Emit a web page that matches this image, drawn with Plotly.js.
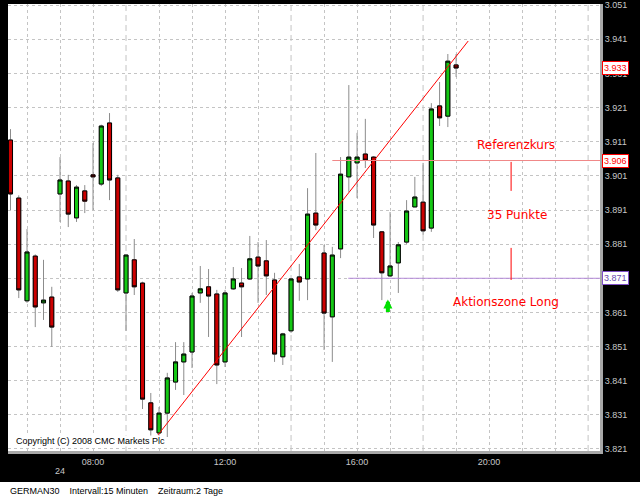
<!DOCTYPE html>
<html>
<head>
<meta charset="utf-8">
<script src="https://cdn.plot.ly/plotly-3.0.1.min.js"></script>
<style>html,body{margin:0;padding:0;background:#000;}#chart{width:640px;height:500px;}</style>
</head>
<body>
<div id="chart"></div>
<script>
// ---- data (15-minute candles, GERMAN30) ----
const times = ["05:30","05:45","06:00","06:15","06:30","06:45",
  "07:00","07:15","07:30","07:45","08:00","08:15","08:30","08:45",
  "09:00","09:15","09:30","09:45","10:00","10:15","10:30","10:45",
  "11:00","11:15","11:30","11:45","12:00","12:15","12:30","12:45",
  "13:00","13:15","13:30","13:45","14:00","14:15","14:30","14:45",
  "15:00","15:15","15:30","15:45","16:00","16:15","16:30","16:45",
  "17:00","17:15","17:30","17:45","18:00","18:15","18:30","18:45","19:00"];
const opens  = [3911.5,3894.5,3864.4,3877.5,3863.8,3865.5,
  3895.7,3899.5,3888.7,3896.6,3901.3,3898.6,3916.5,3900.4,
  3866.7,3876.4,3869.6,3834.5,3825.7,3831.5,3840.6,3846.5,
  3849.4,3866.7,3868.5,3866.4,3846.5,3867.9,3869.6,3870.8,
  3877.2,3876.1,3870.5,3848.0,3855.6,3871.4,3870.8,3890.1,
  3878.4,3859.7,3879.6,3900.7,3904.8,3907.4,3906.5,3884.6,
  3871.7,3875.5,3881.6,3891.9,3893.3,3885.7,3921.5,3918.5,3933.5];
const highs  = [3914.7,3895.3,3885.4,3878.0,3876.4,3868.5,
  3906.5,3901.3,3898.3,3898.3,3910.6,3916.0,3919.4,3901.3,
  3878.0,3882.5,3870.0,3837.4,3833.3,3843.3,3852.3,3852.3,
  3866.7,3874.6,3873.7,3867.6,3867.6,3874.3,3874.0,3883.4,
  3881.6,3882.2,3872.6,3855.0,3871.0,3875.2,3897.4,3907.7,
  3880.8,3880.2,3906.5,3927.6,3913.6,3917.7,3906.8,3884.8,
  3890.4,3881.6,3893.9,3900.7,3904.8,3922.3,3928.5,3936.7,3936.7];
const lows   = [3891.0,3865.2,3863.8,3856.7,3858.8,3850.9,
  3887.5,3886.0,3887.5,3890.1,3891.0,3898.0,3893.9,3867.0,
  3855.6,3866.1,3832.7,3824.5,3822.8,3824.5,3838.3,3836.8,
  3844.7,3863.8,3853.8,3840.0,3845.0,3867.6,3853.8,3870.5,
  3863.8,3866.1,3846.5,3845.6,3855.0,3864.4,3864.6,3885.1,
  3850.0,3846.5,3876.9,3896.3,3894.5,3903.3,3882.8,3864.6,
  3871.4,3866.7,3881.0,3891.9,3883.7,3884.6,3915.6,3915.3,3930.0];
const closes = [3895.7,3867.6,3878.7,3862.6,3864.6,3856.7,
  3899.8,3889.8,3897.7,3893.6,3900.7,3915.6,3899.8,3867.6,
  3877.8,3868.5,3835.6,3826.6,3831.5,3841.8,3846.5,3848.8,
  3865.8,3867.9,3865.8,3845.6,3866.7,3870.8,3868.5,3876.7,
  3874.6,3871.7,3848.8,3854.7,3870.8,3869.9,3889.8,3886.6,
  3860.8,3877.8,3901.5,3906.5,3906.5,3905.6,3886.6,3872.6,
  3874.6,3880.8,3890.7,3894.8,3884.9,3920.6,3918.0,3934.6,3932.6];

// axes
const yTickVals = [3821,3831,3841,3851,3861,3871,3881,3891,3901,3911,3921,3931,3941,3951];
const yTickText = ["3.821","3.831","3.841","3.851","3.861","3.871","3.881","3.891","3.901","3.911","3.921","3.931","3.941","3.051"];
const xTickVals = [6,7,8,10,11,12,13,15,16,17,19,20,21,22];
const xTickText = ["","","08:00","","","12:00","","","16:00","","","20:00","",""];
const sessionHours = [9,14,18,23];
const dayLabel = {time: "07:00", text: "24"};

// annotations / drawings
const trendTimes = ["09:58","19:22"];
const trendPrices = [3825.1, 3940.5];
const refLevel = 3905.5, refStart = "15:15";
const actionLevel = 3871.0, actionStart = "15:44";
const markerTime = "20:40";
const markerUpper = [3905.1, 3896.6];
const markerLower = [3879.9, 3870.5];
const labelTexts = ["Referenzkurs","35 Punkte","Aktionszone Long"];
const labelTimes = ["20:49","20:51","20:31"];
const labelPrices = [3910.0, 3889.5, 3864.0];
const arrowTime = "16:56", arrowPrice = 3864.8;

// ---- helpers ----
const hourOf = s => +s.slice(0,2) + (+s.slice(3))/60;
const fmt = v => { const r = Math.round(v).toString(); return r.slice(0,1) + "." + r.slice(1); };
const x = times.map(hourOf);
const xMin = 5.424, xMax = 23.36;
const yMin = 3820.4, yMax = 3951.35;

const RED = "#cc0000", GREEN = "#14c814";

const wicks = {
  type: "candlestick", x: x, open: opens, high: highs, low: lows, close: closes,
  increasing: {line: {color: "#8c8c8c", width: 1}, fillcolor: GREEN},
  decreasing: {line: {color: "#8c8c8c", width: 1}, fillcolor: RED},
  hoverinfo: "skip", showlegend: false
};
const bodies = {
  type: "candlestick", x: x, open: opens, close: closes,
  high: opens.map((o,i) => Math.max(o, closes[i])),
  low: opens.map((o,i) => Math.min(o, closes[i])),
  increasing: {line: {color: "#000000", width: 1}, fillcolor: GREEN},
  decreasing: {line: {color: "#000000", width: 1}, fillcolor: RED},
  hoverinfo: "skip", showlegend: false
};
const trend = {
  type: "scatter", mode: "lines", x: trendTimes.map(hourOf), y: trendPrices,
  line: {color: "#ff0000", width: 1}, hoverinfo: "skip", showlegend: false
};
const refLine = {
  type: "scatter", mode: "lines", x: [hourOf(refStart), xMax], y: [refLevel, refLevel],
  line: {color: "#f08888", width: 1}, hoverinfo: "skip", showlegend: false
};
const actLine = {
  type: "scatter", mode: "lines", x: [hourOf(actionStart), xMax], y: [actionLevel, actionLevel],
  line: {color: "#b48ad8", width: 1}, hoverinfo: "skip", showlegend: false
};
const mk = hourOf(markerTime);
const markers = {
  type: "scatter", mode: "lines",
  x: [mk, mk, null, mk, mk], y: [markerUpper[0], markerUpper[1], null, markerLower[0], markerLower[1]],
  line: {color: "#ff0000", width: 1}, hoverinfo: "skip", showlegend: false
};

const shapes = [
  // white footer strip
  {type: "rect", xref: "paper", yref: "paper", x0: -0.02, x1: 1.08, y0: -0.115, y1: -0.0694,
   fillcolor: "#ffffff", line: {width: 0}, layer: "below"}
].concat(sessionHours.map(h => ({
  type: "line", xref: "x", yref: "paper", x0: h, x1: h, y0: 0, y1: 1,
  line: {color: "#c4c4c4", width: 1, dash: "6px,4px"}, layer: "below"
})));

const annotations = [
  {xref: "paper", yref: "paper", x: 0.012, y: 0.022, xanchor: "left", yanchor: "middle",
   text: "Copyright (C) 2008 CMC Markets Plc", showarrow: false, bgcolor: "#ffffff", borderpad: 0,
   font: {family: "Liberation Sans, Arial", size: 9, color: "#000"}},
  {xref: "paper", yref: "paper", x: 0, y: -0.0895, xanchor: "left", yanchor: "middle",
   text: "GERMAN30&nbsp;&nbsp;&nbsp;&nbsp;Intervall:15 Minuten&nbsp;&nbsp;&nbsp;&nbsp;Zeitraum:2 Tage", showarrow: false,
   font: {family: "Liberation Sans, Arial", size: 9, color: "#000"}},
  {xref: "x", yref: "paper", x: hourOf(dayLabel.time), y: -0.045, xanchor: "center", yanchor: "middle",
   text: dayLabel.text, showarrow: false, font: {family: "Liberation Sans, Arial", size: 9, color: "#c8c8c8"}},
  {xref: "x", yref: "y", x: hourOf(arrowTime), y: arrowPrice, ax: 0, ay: 14, axref: "pixel", ayref: "pixel",
   text: "", showarrow: true, arrowhead: 2, arrowsize: 0.45, arrowwidth: 4, arrowcolor: "#00e000", standoff: 0, startstandoff: 0}
].concat(labelTexts.map((t, i) => ({
  xref: "x", yref: "y", x: hourOf(labelTimes[i]), y: labelPrices[i], text: t, showarrow: false,
  xanchor: "center", yanchor: "middle", font: {family: "DejaVu Sans", size: 12, color: "#ff0000"}
}))).concat([
  {v: closes[closes.length-1], c: "#ff0000", b: "#ff0000"},
  {v: refLevel, c: "#ff0000", b: "#ff0000"},
  {v: actionLevel, c: "#6848b0", b: "#8050c8"}
].map(t => ({
  xref: "paper", yref: "y", x: 1, xshift: 2, y: t.v, xanchor: "left", yanchor: "middle",
  text: fmt(t.v), showarrow: false, bgcolor: "#ffffff", bordercolor: t.b, borderwidth: 1, borderpad: 1,
  font: {family: "Liberation Sans, Arial", size: 9, color: t.c}
})));

const layout = {
  width: 640, height: 500,
  margin: {l: 8, r: 40, t: 4, b: 49, pad: 0},
  paper_bgcolor: "#000000", plot_bgcolor: "#ffffff",
  showlegend: false, hovermode: false,
  font: {family: "Liberation Sans, Arial", size: 9, color: "#c8c8c8"},
  xaxis: {
    type: "linear", range: [xMin, xMax], rangeslider: {visible: false},
    tickmode: "array", tickvals: xTickVals, ticktext: xTickText, ticks: "",
    showgrid: true, gridcolor: "#c4c4c4", griddash: "dot", gridwidth: 1,
    zeroline: false, showline: true, linecolor: "#a8a8a8", linewidth: 3,
    tickfont: {size: 9, color: "#c8c8c8"}, fixedrange: true
  },
  yaxis: {
    side: "right", range: [yMin, yMax],
    tickmode: "array", tickvals: yTickVals, ticktext: yTickText, ticks: "",
    showgrid: true, gridcolor: "#c4c4c4", griddash: "dot", gridwidth: 1,
    zeroline: false, showline: true, linecolor: "#a8a8a8", linewidth: 3,
    tickfont: {size: 9, color: "#c8c8c8"}, fixedrange: true
  },
  shapes: shapes,
  annotations: annotations
};

Plotly.newPlot("chart", [wicks, bodies, trend, refLine, actLine, markers], layout, {staticPlot: true, displayModeBar: false});
</script>
</body>
</html>
